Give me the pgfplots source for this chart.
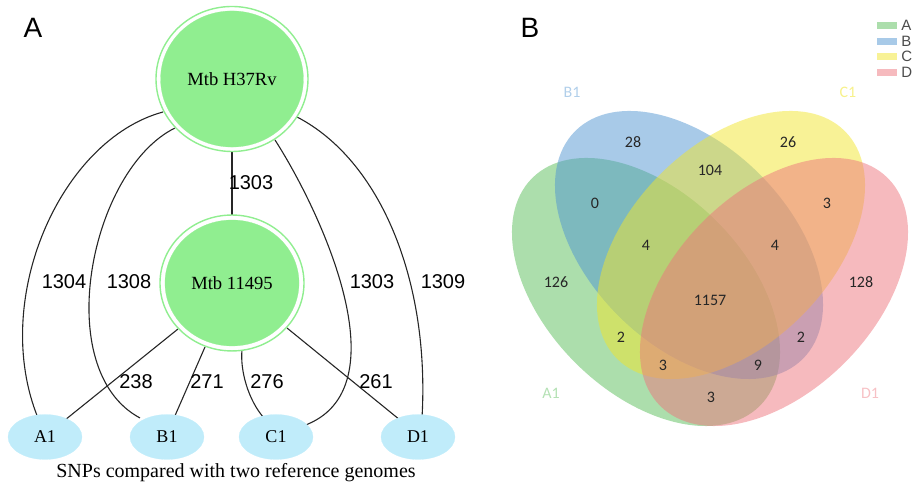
\documentclass[border=0pt]{standalone}
\usepackage{pgfplots}
\pgfplotsset{compat=1.18}
\usepackage{fontspec}
\setmainfont{Liberation Serif}
\newfontfamily\lsans{Liberation Sans}
\newfontfamily\carl{Carlito}
\definecolor{nodegreen}{RGB}{144,238,144}
\definecolor{nodeblue}{RGB}{192,236,250}
\definecolor{vA}{RGB}{89,189,89}
\definecolor{vB}{RGB}{81,149,209}
\definecolor{vC}{RGB}{241,229,45}
\definecolor{vD}{RGB}{237,117,125}
\begin{document}
\begin{tikzpicture}
\useasboundingbox (0,0) rectangle (456pt,243pt);
\begin{axis}[at={(0,0)}, anchor=south west, x=0.5pt, y=0.5pt,
  xmin=0, xmax=912, ymin=0, ymax=486, hide axis, clip=false]
% ---------------- Panel A: network ----------------
\begin{scope}[black!85, line width=0.55pt]
\draw (axis cs:163,374) .. controls (axis cs:60,346) and (axis cs:-10,186) .. (axis cs:38,68);
\draw (axis cs:175,358) .. controls (axis cs:90,316) and (axis cs:50,116) .. (axis cs:140,68);
\draw (axis cs:275,346) .. controls (axis cs:320,276) and (axis cs:405,96) .. (axis cs:303,60);
\draw (axis cs:297,369) .. controls (axis cs:380,326) and (axis cs:430,206) .. (axis cs:422,68);
\draw (axis cs:232,334) -- (axis cs:232,271);
\draw (axis cs:178,157) -- (axis cs:65,66);
\draw (axis cs:205,139) -- (axis cs:174,68);
\draw (axis cs:242,136) .. controls (axis cs:240,116) and (axis cs:248,86) .. (axis cs:264,68);
\draw (axis cs:287,158) -- (axis cs:400,66);
\end{scope}
% big nodes
\addplot[nodegreen, only marks, mark=*, mark size=38pt, mark options={fill=white, draw=nodegreen, line width=0.7pt, yscale=0.954}] coordinates {(232,407)};
\addplot[nodegreen, only marks, mark=*, mark size=35.7pt, mark options={fill=nodegreen, draw=nodegreen, line width=0.1pt, yscale=0.953},
  nodes near coords, point meta=explicit symbolic,
  nodes near coords style={anchor=center, text=black, font=\fontsize{9.3}{11}\selectfont}] coordinates {(232,407) [Mtb H37Rv]};
\addplot[nodegreen, only marks, mark=*, mark size=36pt, mark options={fill=white, draw=nodegreen, line width=0.7pt, yscale=0.944}] coordinates {(232,203)};
\addplot[nodegreen, only marks, mark=*, mark size=33.5pt, mark options={fill=nodegreen, draw=nodegreen, line width=0.1pt, yscale=0.94},
  nodes near coords, point meta=explicit symbolic,
  nodes near coords style={anchor=center, text=black, font=\fontsize{9.3}{11}\selectfont}] coordinates {(232,203) [Mtb 11495]};
% small nodes
\addplot[nodeblue, only marks, mark=*, mark size=18.5pt, mark options={fill=nodeblue, draw=nodeblue, line width=0.1pt, yscale=0.608},
  nodes near coords, point meta=explicit symbolic,
  nodes near coords style={anchor=center, text=black, font=\fontsize{9}{11}\selectfont}]
  coordinates {(45,49) [A1] (167,49) [B1] (276,49) [C1] (418,49) [D1]};
% edge labels
\begin{scope}[every node/.style={font=\lsans\fontsize{10}{12}\selectfont, inner sep=0pt}]
\node at (axis cs:251,303) {1303};
\node at (axis cs:64,204) {1304};
\node at (axis cs:129,204) {1308};
\node at (axis cs:372,204) {1303};
\node at (axis cs:443,204) {1309};
\node at (axis cs:136,104) {238};
\node at (axis cs:207,104) {271};
\node at (axis cs:267,104) {276};
\node at (axis cs:376,104) {261};
\end{scope}
\node[font=\fontsize{10}{12}\selectfont, inner sep=0pt] at (axis cs:236,13) {SNPs compared with two reference genomes};
\node[font=\lsans\fontsize{14}{16}\selectfont, inner sep=0pt] at (axis cs:33,458) {A};
\node[font=\lsans\fontsize{14}{16}\selectfont, inner sep=0pt] at (axis cs:530,458) {B};
% ---------------- Panel B: Venn ----------------
\fill[vA, fill opacity=0.5, rotate around={-45:(axis cs:646,194)}] (axis cs:646,194) ellipse [x radius=80.5pt, y radius=50pt];
\fill[vB, fill opacity=0.5, rotate around={-45:(axis cs:689,241)}] (axis cs:689,241) ellipse [x radius=80.5pt, y radius=50pt];
\fill[vC, fill opacity=0.5, rotate around={45:(axis cs:731,241)}] (axis cs:731,241) ellipse [x radius=80.5pt, y radius=50pt];
\fill[vD, fill opacity=0.5, rotate around={45:(axis cs:774,194)}] (axis cs:774,194) ellipse [x radius=80.5pt, y radius=50pt];
\begin{scope}[every node/.style={font=\carl\fontsize{8}{9.5}\selectfont, inner sep=0pt, text=black!85}]
\node at (axis cs:633,344) {28};
\node at (axis cs:788,344) {26};
\node at (axis cs:710,316) {104};
\node at (axis cs:595,283) {0};
\node at (axis cs:827,283) {3};
\node at (axis cs:646,241) {4};
\node at (axis cs:775,241) {4};
\node at (axis cs:556,204) {126};
\node at (axis cs:861,204) {128};
\node at (axis cs:710,186) {1157};
\node at (axis cs:621,149) {2};
\node at (axis cs:801,149) {2};
\node at (axis cs:663,121) {3};
\node at (axis cs:758,121) {9};
\node at (axis cs:711,89) {3};
\end{scope}
\begin{scope}[every node/.style={font=\carl\fontsize{8}{9.5}\selectfont, inner sep=0pt}]
\node[text=vB!45!white] at (axis cs:572,394) {B1};
\node[text=vC!55!white] at (axis cs:848,394) {C1};
\node[text=vA!45!white] at (axis cs:551,93) {A1};
\node[text=vD!45!white] at (axis cs:870,93) {D1};
\end{scope}
% legend
\fill[vA!50!white] (axis cs:877,457) rectangle (axis cs:897,464);
\fill[vB!50!white] (axis cs:877,441) rectangle (axis cs:897,448);
\fill[vC!50!white] (axis cs:877,426) rectangle (axis cs:897,433);
\fill[vD!50!white] (axis cs:877,410) rectangle (axis cs:897,417);
\begin{scope}[every node/.style={font=\lsans\fontsize{7.5}{9}\selectfont, inner sep=0pt, anchor=west, text=black!70}]
\node at (axis cs:901,460.5) {A1};
\node at (axis cs:901,444.5) {B1};
\node at (axis cs:901,429.5) {C1};
\node at (axis cs:901,413.5) {D1};
\end{scope}
\end{axis}
\end{tikzpicture}
\end{document}
